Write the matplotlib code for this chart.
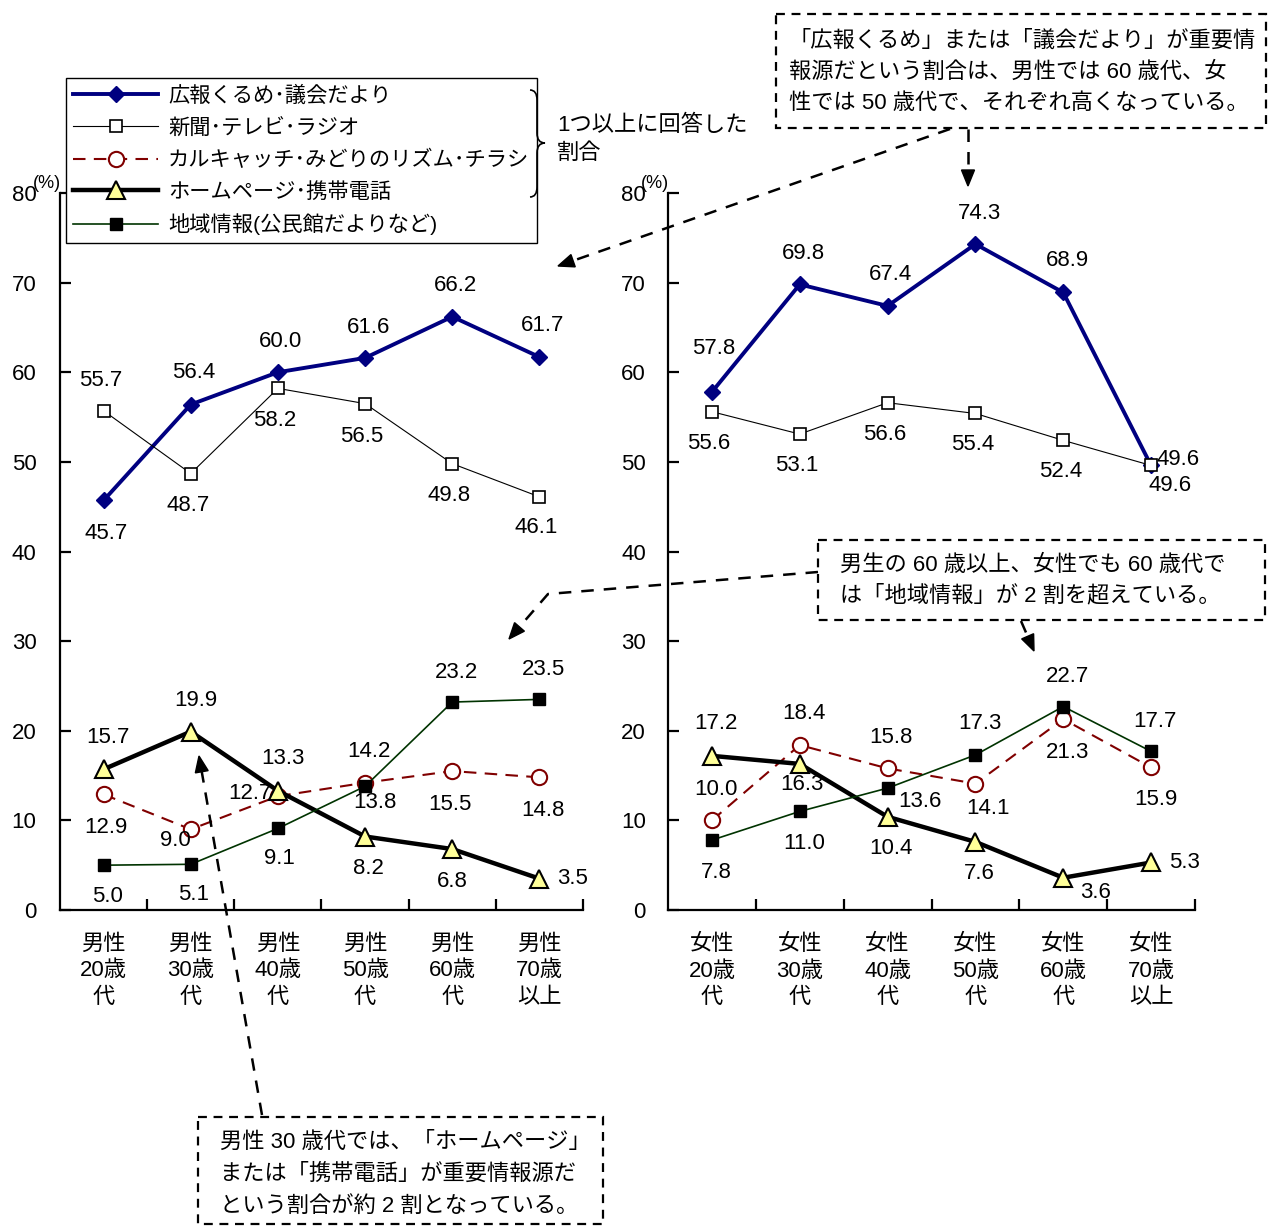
import matplotlib
matplotlib.use('Agg')
import matplotlib.pyplot as plt
from matplotlib.path import Path
from matplotlib.patches import PathPatch, Rectangle, Polygon
import numpy as np

plt.rcParams['font.family'] = ['Liberation Sans', 'Noto Sans CJK JP']
plt.rcParams['font.size'] = 15

# 年代別カテゴリ
male_ages = ['男性\n20歳\n代', '男性\n30歳\n代', '男性\n40歳\n代',
             '男性\n50歳\n代', '男性\n60歳\n代', '男性\n70歳\n以上']
female_ages = ['女性\n20歳\n代', '女性\n30歳\n代', '女性\n40歳\n代',
               '女性\n50歳\n代', '女性\n60歳\n代', '女性\n70歳\n以上']

series_names = ['広報くるめ･議会だより', '新聞･テレビ･ラジオ',
                'カルキャッチ･みどりのリズム･チラシ', 'ホームページ･携帯電話',
                '地域情報(公民館だよりなど)']

# 男性 (%)
male_kouhou = [45.7, 56.4, 60.0, 61.6, 66.2, 61.7]
male_shinbun = [55.7, 48.7, 58.2, 56.5, 49.8, 46.1]
male_chirashi = [12.9, 9.0, 12.7, 14.2, 15.5, 14.8]
male_hp = [15.7, 19.9, 13.3, 8.2, 6.8, 3.5]
male_chiiki = [5.0, 5.1, 9.1, 13.8, 23.2, 23.5]

# 女性 (%)
female_kouhou = [57.8, 69.8, 67.4, 74.3, 68.9, 49.6]
female_shinbun = [55.6, 53.1, 56.6, 55.4, 52.4, 49.6]
female_chirashi = [10.0, 18.4, 15.8, 14.1, 21.3, 15.9]
female_hp = [17.2, 16.3, 10.4, 7.6, 3.6, 5.3]
female_chiiki = [7.8, 11.0, 13.6, 17.3, 22.7, 17.7]

# 線のスタイル
styles = [
    dict(color='#000080', lw=2.8, marker='D', ms=8, mfc='#000080', mec='#000080'),
    dict(color='black', lw=0.8, marker='s', ms=8, mfc='white', mec='black', mew=1.2),
    dict(color='#800000', lw=1.5, ls=(0, (6, 4)), marker='o', ms=11, mfc='white',
         mec='#800000', mew=1.5),
    dict(color='black', lw=3.2, marker='^', ms=13, mfc='#FFFF99', mec='black', mew=1.5),
    dict(color='#003300', lw=1.2, marker='s', ms=9, mfc='black', mec='black'),
]

# 数値ラベルの位置 (ピクセル単位のオフセット)
male_offsets = [
    [(3, -33), (3, 32), (3, 31), (3, 30), (3, 31), (3, 32)],
    [(-3, 30), (-3, -32), (-3, -32), (-3, -33), (-3, -32), (-3, -31)],
    [(2, -33), (-15, -11), (-28, 3), (4, 31), (-2, -33), (4, -33)],
    [(4, 32), (5, 31), (5, 32), (3, -32), (0, -32), (33, 0)],
    [(4, -31), (3, -30), (2, -30), (10, -16), (4, 30), (4, 30)],
]
female_offsets = [
    [(2, 43), (4, 31), (3, 31), (4, 31), (4, 32), (27, 6)],
    [(-3, -32), (-3, -31), (-3, -32), (-3, -31), (-3, -31), (19, -20)],
    [(4, 31), (4, 32), (3, 31), (13, -25), (4, -33), (5, -32)],
    [(4, 32), (2, -21), (3, -32), (4, -32), (32, -15), (33, 0)],
    [(4, -32), (4, -32), (32, -13), (5, 31), (4, 30), (4, 30)],
]

W, H = 1268, 1228
fig = plt.figure(figsize=(W / 100, H / 100), dpi=100)


def setup_axes(ax, labels, label_pad):
    ax.set_xlim(-0.5, 5.5)
    ax.set_ylim(0, 80)
    for s in ['top', 'right']:
        ax.spines[s].set_visible(False)
    for s in ['left', 'bottom']:
        ax.spines[s].set_linewidth(1.6)
    ax.set_yticks(np.arange(0, 81, 10))
    ax.tick_params(axis='y', direction='in', length=8, width=1.6, pad=label_pad,
                   labelsize=16)
    ax.set_xticks(np.arange(len(labels)))
    ax.set_xticklabels(labels, fontsize=16, linespacing=1.36)
    ax.tick_params(axis='x', which='major', length=0, pad=17)
    ax.set_xticks(np.arange(len(labels)) + 0.5, minor=True)
    ax.tick_params(axis='x', which='minor', direction='in', length=8, width=1.6)
    ax.patch.set_alpha(0)
    ax.annotate('(%)', xy=(0, 1), xycoords='axes fraction', xytext=(-13, 10),
                textcoords='offset pixels', fontsize=13, ha='center', va='center')


def draw_panel(ax, data, offsets):
    x = np.arange(len(data[0]))
    handles = []
    for vals, st, offs in zip(data, styles, offsets):
        h, = ax.plot(x, vals, clip_on=False, **st)
        handles.append(h)
        for xi, v, (dx, dy) in zip(x, vals, offs):
            ax.annotate(f'{v:.1f}', xy=(xi, v), xytext=(dx, dy),
                        textcoords='offset pixels', ha='center', va='center',
                        fontsize=16)
    return handles


ax_m = fig.add_axes([60 / W, 1 - 910 / H, 523 / W, 717 / H])
ax_f = fig.add_axes([668 / W, 1 - 910 / H, 527 / W, 717 / H])
setup_axes(ax_m, male_ages, 17)
setup_axes(ax_f, female_ages, 16)

handles = draw_panel(ax_m, [male_kouhou, male_shinbun, male_chirashi, male_hp,
                            male_chiiki], male_offsets)
draw_panel(ax_f, [female_kouhou, female_shinbun, female_chirashi, female_hp,
                  female_chiiki], female_offsets)

leg = fig.legend(handles, series_names, loc='upper left',
                 bbox_to_anchor=(66 / W, 1 - 78 / H), borderaxespad=0,
                 fontsize=15.3, handlelength=4.0, handletextpad=0.45,
                 labelspacing=0.56, numpoints=1, fancybox=False,
                 borderpad=0.35, framealpha=1)
leg.get_frame().set_edgecolor('black')
leg.get_frame().set_linewidth(1.0)

# 注記用のオーバーレイ (ピクセル座標)
ov = fig.add_axes([0, 0, 1, 1], zorder=10)
ov.set_xlim(0, W)
ov.set_ylim(H, 0)
ov.axis('off')
ov.patch.set_alpha(0)

# 中かっこ
brace = Path([(530, 90), (537, 90), (537, 100), (537, 133), (537, 143), (545, 143),
              (537, 143), (537, 153), (537, 187), (537, 197), (530, 197)],
             [Path.MOVETO, Path.CURVE3, Path.CURVE3, Path.LINETO, Path.CURVE3,
              Path.CURVE3, Path.CURVE3, Path.CURVE3, Path.LINETO, Path.CURVE3,
              Path.CURVE3])
ov.add_patch(PathPatch(brace, fill=False, lw=1.2, color='black'))
ov.text(557, 125, '1つ以上に回答した', fontsize=16, va='center')
ov.text(557, 153, '割合', fontsize=16, va='center')


def note_box(x0, y0, x1, y1, lines, tx, ty, step):
    ov.add_patch(Rectangle((x0, y0), x1 - x0, y1 - y0, fill=False, lw=1.6,
                           ls=(0, (4, 3)), ec='black'))
    for i, ln in enumerate(lines):
        ov.text(tx, ty + i * step, ln, fontsize=16, va='center', ha='left')


def dashed_arrow(pts):
    pts = np.asarray(pts, dtype=float)
    d = pts[-1] - pts[-2]
    d /= np.hypot(*d)
    n = np.array([-d[1], d[0]])
    tip = pts[-1]
    base = tip - d * 16
    line = np.vstack([pts[:-1], base])
    ov.plot(line[:, 0], line[:, 1], color='black', lw=1.8, ls=(0, (5, 4)))
    ov.add_patch(Polygon([tip, base + n * 6.5, base - n * 6.5], closed=True,
                         fc='black', ec='black'))


note_box(776, 14, 1266, 128,
         ['「広報くるめ」または「議会だより」が重要情',
          '報源だという割合は、男性では 60 歳代、女',
          '性では 50 歳代で、それぞれ高くなっている。'],
         789, 41, 31)
note_box(818, 540, 1265, 620,
         ['男生の 60 歳以上、女性でも 60 歳代で',
          'は「地域情報」が 2 割を超えている。'],
         840, 565, 31)
note_box(198, 1117, 603, 1224,
         ['男性 30 歳代では、「ホームページ」',
          'または「携帯電話」が重要情報源だ',
          'という割合が約 2 割となっている。'],
         220, 1142, 32)

dashed_arrow([(950, 129), (558, 266)])
dashed_arrow([(968, 129), (968, 186)])
dashed_arrow([(818, 572), (548, 594), (509, 639)])
dashed_arrow([(1021, 621), (1034, 651)])
dashed_arrow([(262, 1115), (199, 756)])

fig.savefig('out.png', dpi=100)
